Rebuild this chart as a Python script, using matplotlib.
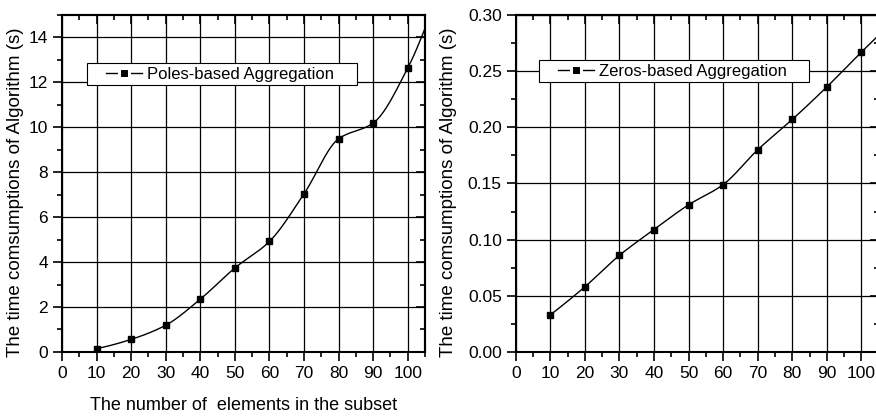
import numpy as np
import matplotlib
matplotlib.use("Agg")
from matplotlib import pyplot as plt
from matplotlib.ticker import MultipleLocator, FormatStrFormatter
from matplotlib.lines import Line2D
from matplotlib.legend_handler import HandlerLine2D

plt.rcParams['font.family'] = ['Liberation Sans', 'DejaVu Sans']

# data
subset_sizes = [10, 20, 30, 40, 50, 60, 70, 80, 90, 100]
poles_time = [0.15, 0.56, 1.19, 2.35, 3.74, 4.92, 7.04, 9.49, 10.19, 12.64]
zeros_time = [0.033, 0.058, 0.086, 0.109, 0.131, 0.149, 0.180, 0.207, 0.236, 0.267]
# where the smoothed curve leaves the frame at x = 105
edge_x = 105
poles_edge = 14.41
zeros_edge = 0.282

x_label = "The number of  elements in the subset"
y_label = "The time comsumptions of Algorithm (s)"


#monotone cubic (pchip) curve through the points
def smooth(xs, ys, n=400):
 xs = np.asarray(xs, float)
 ys = np.asarray(ys, float)
 k = len(xs)
 h = np.diff(xs)
 d = np.diff(ys) / h
 m = np.zeros(k)
 for i in range(1, k - 1):
  if d[i - 1] * d[i] > 0:
   w1 = 2 * h[i] + h[i - 1]
   w2 = h[i] + 2 * h[i - 1]
   m[i] = (w1 + w2) / (w1 / d[i - 1] + w2 / d[i])
 m[0] = ((2 * h[0] + h[1]) * d[0] - h[0] * d[1]) / (h[0] + h[1])
 m[-1] = ((2 * h[-1] + h[-2]) * d[-1] - h[-1] * d[-2]) / (h[-1] + h[-2])
 xx = np.linspace(xs[0], xs[-1], n)
 idx = np.clip(np.searchsorted(xs, xx) - 1, 0, k - 2)
 t = (xx - xs[idx]) / h[idx]
 h00 = 2 * t ** 3 - 3 * t ** 2 + 1
 h10 = t ** 3 - 2 * t ** 2 + t
 h01 = -2 * t ** 3 + 3 * t ** 2
 h11 = t ** 3 - t ** 2
 yy = (h00 * ys[idx] + h10 * h[idx] * m[idx] + h01 * ys[idx + 1]
  + h11 * h[idx] * m[idx + 1])
 return xx, yy


fig = plt.figure(figsize=(8.76, 4.17), dpi=100)
ax1 = fig.add_axes([0.0708, 0.156, 0.4144, 0.808])
ax2 = fig.add_axes([0.5887, 0.156, 0.4144, 0.808])

panels = [
 (ax1, poles_time, poles_edge, "Poles-based Aggregation    ", 15, 2, 1,
  (0.069, 0.858), -0.105),
 (ax2, zeros_time, zeros_edge, "Zeros-based Aggregation    ", 0.30, 0.05,
  0.025, (0.064, 0.866), -0.162),
]

for ax, ys, edge, name, ytop, ymaj, ymin, legpos, labx in panels:
 xx, yy = smooth(subset_sizes + [edge_x], ys + [edge])
 ax.plot(xx, yy, color='black', linewidth=1.0)
 ax.plot(subset_sizes, ys, linestyle='none', marker='s', markersize=5,
  color='black')
 ax.set_xlim(0, 105)
 ax.set_ylim(0, ytop)
 ax.xaxis.set_major_locator(MultipleLocator(10))
 ax.xaxis.set_minor_locator(MultipleLocator(5))
 ax.yaxis.set_major_locator(MultipleLocator(ymaj))
 ax.yaxis.set_minor_locator(MultipleLocator(ymin))
 ax.grid(True, which='major', color='black', linewidth=0.9)
 ax.set_axisbelow(True)
 ax.tick_params(which='both', direction='out', labelsize=12.5, width=1.2,
  pad=3.5)
 ax.tick_params(which='major', length=6.5)
 ax.tick_params(which='minor', length=3.6)
 # top and right axes carry inward ticks only
 top = ax.secondary_xaxis('top')
 top.xaxis.set_major_locator(MultipleLocator(10))
 top.xaxis.set_minor_locator(MultipleLocator(5))
 right = ax.secondary_yaxis('right')
 right.yaxis.set_major_locator(MultipleLocator(ymaj))
 right.yaxis.set_minor_locator(MultipleLocator(ymin))
 for sec in (top, right):
  sec.tick_params(which='both', direction='in', width=1.2,
   labeltop=False, labelright=False)
  sec.tick_params(which='major', length=6.5)
  sec.tick_params(which='minor', length=3.6)
  for s in sec.spines.values():
   s.set_linewidth(1.5)
 for s in ax.spines.values():
  s.set_linewidth(1.5)
 ax.set_ylabel(y_label, fontsize=13.5)
 ax.yaxis.set_label_coords(labx, 0.475)
 # legend handle: line broken round the square, as in the original key
 proxy = Line2D([], [], color='black', linewidth=1.0, marker='s',
  markersize=7, markerfacecolor='black', markeredgecolor='white',
  markeredgewidth=2.2)
 leg = ax.legend([proxy], [name], loc='upper left', bbox_to_anchor=legpos,
  borderaxespad=0, fontsize=12, frameon=True, fancybox=False,
  framealpha=1, edgecolor='black', handlelength=3.1, handletextpad=0.3,
  borderpad=0.22, handler_map={proxy: HandlerLine2D(xpad=0.9)})
 leg.get_frame().set_linewidth(0.8)

ax2.yaxis.set_major_formatter(FormatStrFormatter('%.2f'))
ax1.set_xlabel(x_label, fontsize=13)
ax1.xaxis.set_label_coords(0.5, -0.134)

fig.savefig("out.png", dpi=100)
